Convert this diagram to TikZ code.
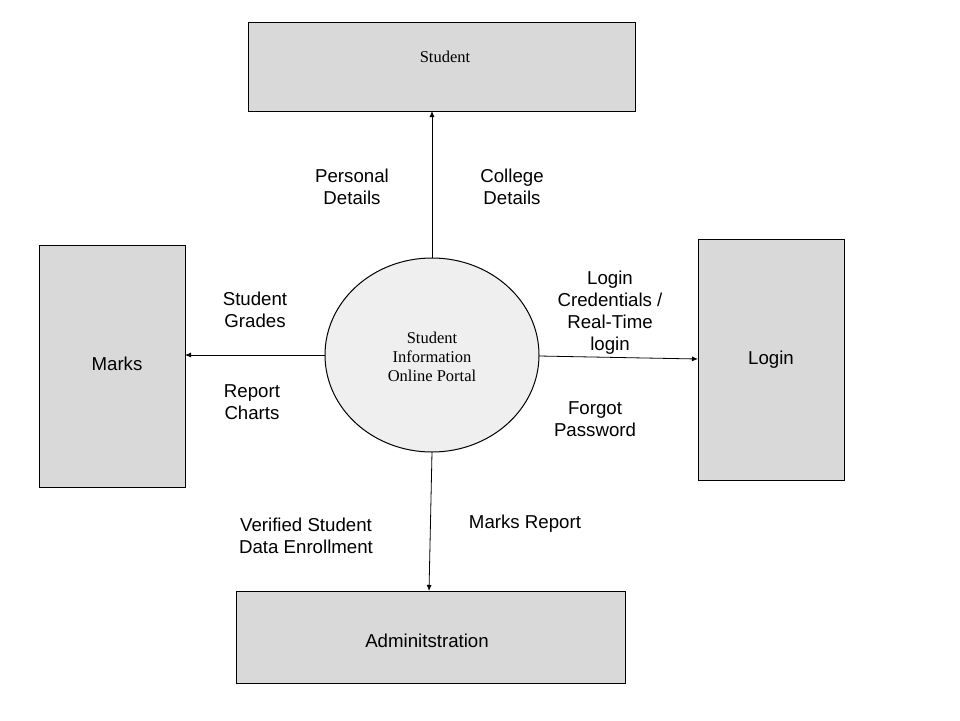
\documentclass[tikz,border=0pt]{standalone}
\usepackage{fontspec}
\setmainfont{Liberation Sans}
\newfontfamily\serifface{Liberation Serif}
\usetikzlibrary{arrows.meta}
\definecolor{boxgray}{HTML}{D9D9D9}
\definecolor{ellgray}{HTML}{EFEFEF}
\begin{document}
\begin{tikzpicture}[x=1pt,y=-1pt,
  entity/.style={draw=black,fill=boxgray,line width=1pt},
  lbl/.style={align=center,font=\fontsize{18.67}{22}\selectfont,inner sep=0pt},
  flow/.style={draw=black,line width=0.8pt,-{Latex[length=6pt,width=5pt]}}]
\useasboundingbox (0,0) rectangle (960,720);
\fill[white] (0,0) rectangle (960,720);
% boxes
\draw[entity] (248,22) rectangle (635,111);
\node[font=\serifface\fontsize{16.5}{19}\selectfont] (student) at (445,57) {Student};
\coordinate (studentB) at (432,111);
\draw[entity] (39,245) rectangle (185,487);
\node[lbl] (marks) at (117,364) {Marks};
\coordinate (marksR) at (185,355);
\draw[entity] (698,239) rectangle (844,480);
\node[lbl] (login) at (771,360) {Login};
\coordinate (loginL) at (698,359);
\draw[entity] (236,591) rectangle (625,683);
\node[lbl] (admin) at (427,641) {Adminitstration};
\coordinate (adminT) at (429,591);
% ellipse
\draw[fill=ellgray,line width=1pt] (432,355) ellipse [x radius=107,y radius=97];
\node[align=center,font=\serifface\fontsize{16.5}{19}\selectfont] (portal) at (432,357) {Student\\Information\\Online Portal};
\coordinate (pT) at (432,258);
\coordinate (pL) at (325,355);
\coordinate (pR) at (539,356);
\coordinate (pB) at (432,452);
% flows
\draw[flow] (pT) -- (studentB);
\draw[flow] (pL) -- (marksR);
\draw[flow] (pR) -- (loginL);
\draw[flow] (pB) -- (adminT);
% labels
\node[lbl] (l1) at (352,187) {Personal\\Details};
\node[lbl] (l2) at (512,187) {College\\Details};
\node[lbl] (l3) at (255,310) {Student\\Grades};
\node[lbl] (l4) at (252,402) {Report\\Charts};
\node[lbl] (l5) at (610,313) {Login\\Credentials /\\Real-Time\\login};
\node[lbl] (l6) at (595,419) {Forgot\\Password};
\node[lbl] (l7) at (306,536) {Verified Student\\Data Enrollment};
\node[lbl] (l8) at (525,524) {Marks Report};
\end{tikzpicture}
\end{document}
